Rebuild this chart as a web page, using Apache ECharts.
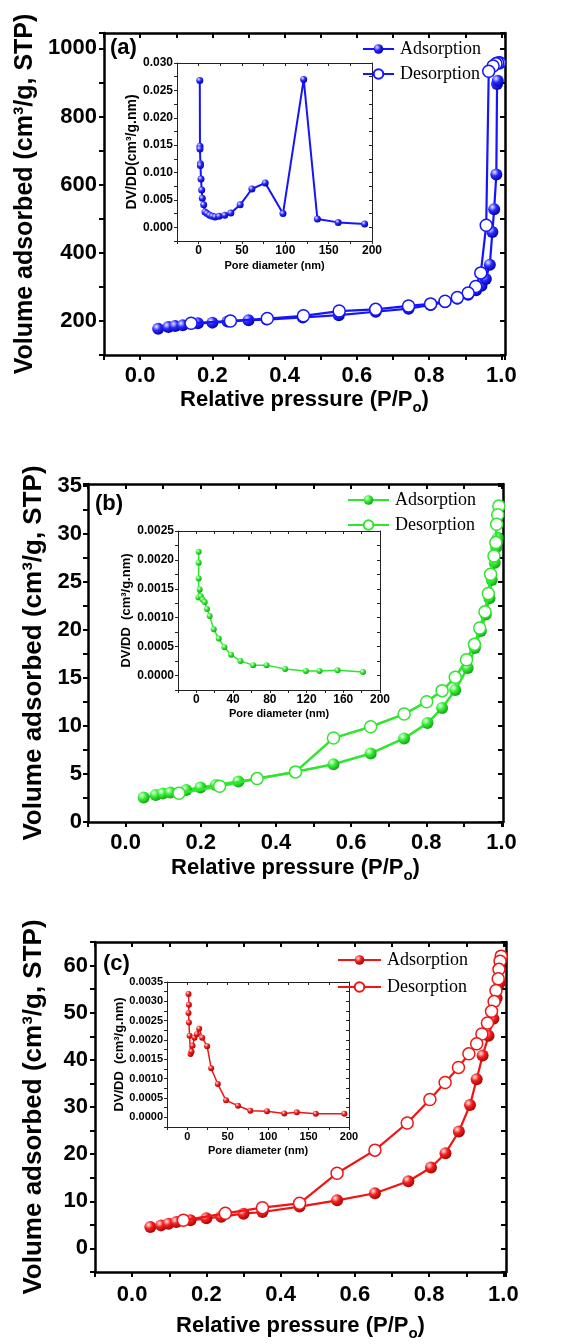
<!DOCTYPE html>
<html><head><meta charset="utf-8">
<script src="https://cdn.jsdelivr.net/npm/echarts@6/dist/echarts.min.js"></script>
<style>html,body{margin:0;padding:0;background:#fff}#c{width:568px;height:1344px}</style>
</head><body><div id="c"></div>
<script>
// ---------- Panel (a): isotherm ----------
const aAdsP = [0.05,0.078,0.097,0.118,0.16,0.2,0.242,0.30,0.35,0.45,0.55,0.652,0.743,0.804,0.844,0.878,0.908,0.93,0.945,0.957,0.968,0.975,0.98,0.986,0.988,0.99];
const aAdsV = [177,182,185,187,193,195,198,202,204,210,217,227,236,247,255,265,277,290,303,323,365,461,528,630,895,905];
const aDesP = [0.995,0.99,0.985,0.977,0.965,0.958,0.943,0.929,0.908,0.878,0.844,0.804,0.743,0.652,0.551,0.452,0.352,0.25,0.141];
const aDesV = [958,957,955,948,933,481,341,301,282,269,258,250,244,234,229,215,207,200,193];
// Panel (a): pore size distribution inset
const aPoreD = [1.3,1.5,1.5,2.0,2.0,2.7,3.5,4.2,5.8,7.3,9.7,12.7,15.8,18.9,23.6,30.1,37.1,47.9,61.4,76.8,97.3,121.2,137,161,191.5];
const aPoreV = [0.0268,0.0148,0.0143,0.0116,0.0113,0.0088,0.0068,0.0053,0.0041,0.0028,0.0025,0.0022,0.0020,0.0019,0.0020,0.0022,0.0026,0.0041,0.0070,0.0081,0.0025,0.0270,0.0015,0.0009,0.0006];

// ---------- Panel (b) ----------
const bAdsP = [0.048,0.08,0.099,0.119,0.161,0.199,0.24,0.30,0.35,0.45,0.553,0.652,0.741,0.803,0.842,0.877,0.91,0.929,0.945,0.958,0.968,0.974,0.982,0.986,0.99];
const bAdsV = [2.54,2.82,2.96,3.06,3.34,3.59,3.86,4.21,4.49,5.2,6.02,7.14,8.70,10.3,11.87,13.75,16.05,18.13,19.9,21.6,23.3,25.2,27.0,28.6,29.6];
const bDesP = [0.993,0.99,0.987,0.985,0.98,0.971,0.965,0.956,0.942,0.928,0.907,0.877,0.842,0.801,0.741,0.652,0.553,0.452,0.35,0.25,0.142];
const bDesV = [32.9,32.0,31.0,29.1,27.7,25.8,23.8,21.9,20.2,18.5,16.9,15.07,13.68,12.53,11.24,9.92,8.74,5.22,4.52,3.72,2.99];
const bPoreD = [2.5,2.5,2.5,2.2,3.6,4.7,6.9,9.1,11.6,14.5,18.9,24.4,30.5,37.8,48,61.8,76.4,96.7,119.3,134.2,153.8,181.5];
const bPoreV = [0.00214,0.00195,0.00168,0.00135,0.00149,0.00137,0.00131,0.00127,0.00115,0.00103,0.00080,0.00064,0.00049,0.00036,0.00025,0.00018,0.00018,0.000115,0.00008,0.00008,0.00009,0.00006];

// ---------- Panel (c) ----------
const cAdsP = [0.049,0.078,0.098,0.119,0.157,0.2,0.24,0.30,0.351,0.451,0.552,0.654,0.744,0.805,0.844,0.88,0.91,0.928,0.944,0.96,0.973,0.982,0.99];
const cAdsV = [4.54,4.89,5.25,5.6,5.96,6.38,6.74,7.38,7.73,8.87,10.21,11.7,14.26,17.16,20.2,24.8,30.4,35.9,40.9,45.1,48.7,53.1,56.3];
const cDesP = [0.994,0.991,0.988,0.986,0.98,0.975,0.968,0.957,0.942,0.928,0.907,0.879,0.843,0.802,0.741,0.654,0.552,0.451,0.351,0.251,0.138];
const cDesV = [62.0,60.9,59.2,57.2,54.7,52.4,50.3,47.8,45.5,43.4,41.3,38.4,35.2,31.6,26.6,20.85,15.96,9.57,8.65,7.45,5.96];
const cPoreD = [1.6,2.1,1.6,2.1,2.9,4.1,5.3,6.6,9.0,11.9,14.8,18.5,24.6,29.6,37.8,48,62.8,78,98.6,120,135.5,159,194.3];
const cPoreV = [0.00319,0.00291,0.0027,0.00245,0.00211,0.00164,0.0017,0.00185,0.00206,0.00215,0.00229,0.00206,0.00184,0.00127,0.00086,0.00044,0.0003,0.00017,0.00016,0.0001,0.00013,0.00009,0.00009];

// ---------- text ----------
const yTitle = 'Volume adsorbed (cm³/g, STP)';
const xTitle = '{t|Relative pressure (P/P}{s|o}{t|)}';
const poreTitle = 'Pore diameter (nm)';
const dvTitles = ['DV/DD(cm³/g.nm)', 'DV/DD  (cm³/g.nm)', 'DV/DD  (cm³/g.nm)'];
const legendNames = ['Adsorption', 'Desorption'];
const panelLabels = ['(a)', '(b)', '(c)'];

const FONT = "'Liberation Sans', Arial, Helvetica, sans-serif";
const SERIF = "'Liberation Serif', 'Times New Roman', serif";

const zip = (xs, ys) => xs.map((x, i) => [x, ys[i]]);

function fmtStep(step, every, dec) {
  return function (v) {
    const k = Math.round(v / step);
    if (Math.abs(v / step - k) > 1e-6) return '';
    if (k % every !== 0 || k < 0) return '';
    return (k * step).toFixed(dec);
  };
}

function axes(dim, gi, c) {
  const common = { type: 'value', gridIndex: gi, min: c.min, max: c.max, interval: c.step,
    splitLine: { show: false }, minorTick: { show: false } };
  const line = { show: true, onZero: false, lineStyle: { color: c.color, width: c.lw } };
  const tick = (inside) => ({ show: true, inside: inside, length: c.tick, lineStyle: { color: c.color, width: c.tw } });
  const primary = Object.assign({}, common, {
    position: dim === 'x' ? 'bottom' : 'left',
    axisLine: line, axisTick: tick(false),
    axisLabel: { show: true, formatter: fmtStep(c.step, c.every, c.dec), fontSize: c.labelSize,
      fontWeight: 'bold', fontFamily: FONT, color: '#000', margin: c.labelMargin, hideOverlap: false },
    name: c.name, nameLocation: 'middle', nameGap: c.nameGap, nameTextStyle: c.nameStyle
  });
  const mirror = Object.assign({}, common, {
    position: dim === 'x' ? 'top' : 'right',
    axisLine: line, axisTick: tick(true), axisLabel: { show: false }
  });
  return [primary, mirror];
}

const grids = [
  { left: 104, top: 33, width: 401, height: 322 },
  { left: 177, top: 63, width: 195, height: 178 },
  { left: 88, top: 484, width: 415, height: 338 },
  { left: 178, top: 531, width: 202, height: 159 },
  { left: 95, top: 942, width: 411, height: 330 },
  { left: 167, top: 982, width: 182, height: 145 }
].map(g => Object.assign(g, { show: true, backgroundColor: '#fff', borderWidth: 0 }));

const xNameStyle = () => ({
  rich: {
    t: { fontSize: 22, fontWeight: 'bold', fontFamily: FONT, color: '#000', lineHeight: 26, verticalAlign: 'top' },
    s: { fontSize: 15, fontWeight: 'bold', fontFamily: FONT, color: '#000', lineHeight: 12, verticalAlign: 'bottom' }
  }
});
const yNameStyle = (fs) => ({ fontSize: fs, fontWeight: 'bold', fontFamily: FONT, color: '#000' });
const insetXName = { fontSize: 11, fontWeight: 'bold', fontFamily: FONT, color: '#000' };
const insetYName = (fs) => ({ fontSize: fs, fontWeight: 'bold', fontFamily: FONT, color: '#000' });

const mainX = (gi, max, margin, gap) => axes('x', gi, { min: -0.1, max: max, step: 0.1, every: 2, dec: 1,
  labelSize: 22, labelMargin: margin, lw: 2.5, tw: 2, tick: 5, color: '#000',
  name: xTitle, nameGap: gap, nameStyle: xNameStyle() });
const mainY = (gi, min, max, step, margin, gap, fs) => axes('y', gi, { min: min, max: max, step: step, every: 2, dec: 0,
  labelSize: 22, labelMargin: margin, lw: 2.5, tw: 2, tick: 5, color: '#000',
  name: yTitle, nameGap: gap, nameStyle: yNameStyle(fs) });
const insX = (gi, min, step, fs, gap) => axes('x', gi, { min: min, max: 200, step: step, every: 2, dec: 0,
  labelSize: fs, labelMargin: 4, lw: 1, tw: 1, tick: 3, color: '#222',
  name: poreTitle, nameGap: gap, nameStyle: insetXName });
const insY = (gi, min, max, step, dec, fs, gap, title, tfs) => axes('y', gi, { min: min, max: max, step: step, every: 2, dec: dec,
  labelSize: fs, labelMargin: 4, lw: 1, tw: 1, tick: 3, color: '#222',
  name: title, nameGap: gap, nameStyle: insetYName(tfs) });

const xAxis = [].concat(
  mainX(0, 1.01, 10, 34), insX(1, -25, 25, 12, 19),
  mainX(2, 1.004, 10, 35), insX(3, -20, 20, 12, 18),
  mainX(4, 1.007, 12, 43), insX(5, -25, 25, 11, 18)
);
const yAxis = [].concat(
  mainY(0, 100, 1045, 100, 7, 62, 25), insY(1, -0.0025, 0.030, 0.0025, 3, 12, 35, dvTitles[0], 14),
  mainY(2, 0, 35.2, 2.5, 6, 41, 26), insY(3, -0.00025, 0.0025, 0.00025, 4, 12, 38, dvTitles[1], 13),
  mainY(4, -5, 65, 5, 7, 48, 26), insY(5, -0.00025, 0.0035, 0.00025, 4, 11, 39, dvTitles[2], 13)
);

function sphere(c1, c2, c3) {
  return { type: 'radial', x: 0.35, y: 0.32, r: 0.72,
    colorStops: [{ offset: 0, color: c1 }, { offset: 0.45, color: c2 }, { offset: 1, color: c3 }] };
}
const palettes = [
  { line: '#1414ff', ball: sphere('#e8e8ff', '#2a2aff', '#0000a8'), lw: 2.2, insLw: 2, sym: 12, insSym: 7 },
  { line: '#2ee62e', ball: sphere('#eaffea', '#33ee33', '#12a012'), lw: 2.5, insLw: 1.5, sym: 12, insSym: 6 },
  { line: '#f01414', ball: sphere('#ffe6e6', '#f22020', '#a80000'), lw: 2.2, insLw: 1.5, sym: 12, insSym: 6 }
];
const isoData = [
  [zip(aAdsP, aAdsV), zip(aDesP, aDesV), zip(aPoreD, aPoreV)],
  [zip(bAdsP, bAdsV), zip(bDesP, bDesV), zip(bPoreD, bPoreV)],
  [zip(cAdsP, cAdsV), zip(cDesP, cDesV), zip(cPoreD, cPoreV)]
];
const tags = ['a', 'b', 'c'];

const series = [];
isoData.forEach((d, p) => {
  const pal = palettes[p];
  const gm = 4 * p, gi = 4 * p + 2;
  series.push({ name: legendNames[0] + ' ' + tags[p], type: 'line', xAxisIndex: gm, yAxisIndex: gm, data: d[0],
    symbol: 'circle', symbolSize: pal.sym, lineStyle: { color: pal.line, width: pal.lw },
    itemStyle: { color: pal.ball }, z: 3, animation: false });
  series.push({ name: legendNames[1] + ' ' + tags[p], type: 'line', xAxisIndex: gm, yAxisIndex: gm, data: d[1],
    symbol: 'circle', symbolSize: pal.sym, lineStyle: { color: pal.line, width: pal.lw },
    itemStyle: { color: '#fff', borderColor: pal.line, borderWidth: 1.5 }, z: 4, animation: false });
  series.push({ name: 'PSD ' + tags[p], type: 'line', xAxisIndex: gi, yAxisIndex: gi, data: d[2],
    symbol: 'circle', symbolSize: pal.insSym, lineStyle: { color: pal.line, width: pal.insLw },
    itemStyle: { color: pal.ball }, z: 5, animation: false });
});

const legendPos = [
  { left: 362, top: 40, itemWidth: 31, itemGap: 7 },
  { left: 347, top: 491, itemWidth: 41, itemGap: 7 },
  { left: 337, top: 951, itemWidth: 43, itemGap: 9 }
];
const legend = legendPos.map((lp, p) => ({
  orient: 'vertical', left: lp.left, top: lp.top, itemWidth: lp.itemWidth, itemHeight: 12, itemGap: lp.itemGap,
  selectedMode: false, padding: 0,
  data: legendNames.map(n => n + ' ' + tags[p]),
  formatter: (name) => name.split(' ')[0],
  textStyle: { fontFamily: SERIF, fontSize: 18, color: '#000', padding: [0, 0, 0, 1] }
}));

const labelPos = [[110, 37], [95, 493], [103, 953]];
const graphic = panelLabels.map((t, i) => ({
  type: 'text', left: labelPos[i][0], top: labelPos[i][1],
  style: { text: t, fontSize: 22, fontWeight: 'bold', fontFamily: FONT, fill: '#000' }, z: 10
}));

const chart = echarts.init(document.getElementById('c'), null, { renderer: 'canvas' });
chart.setOption({
  animation: false, backgroundColor: '#fff',
  grid: grids, xAxis: xAxis, yAxis: yAxis, series: series, legend: legend, graphic: graphic
});
</script></body></html>
